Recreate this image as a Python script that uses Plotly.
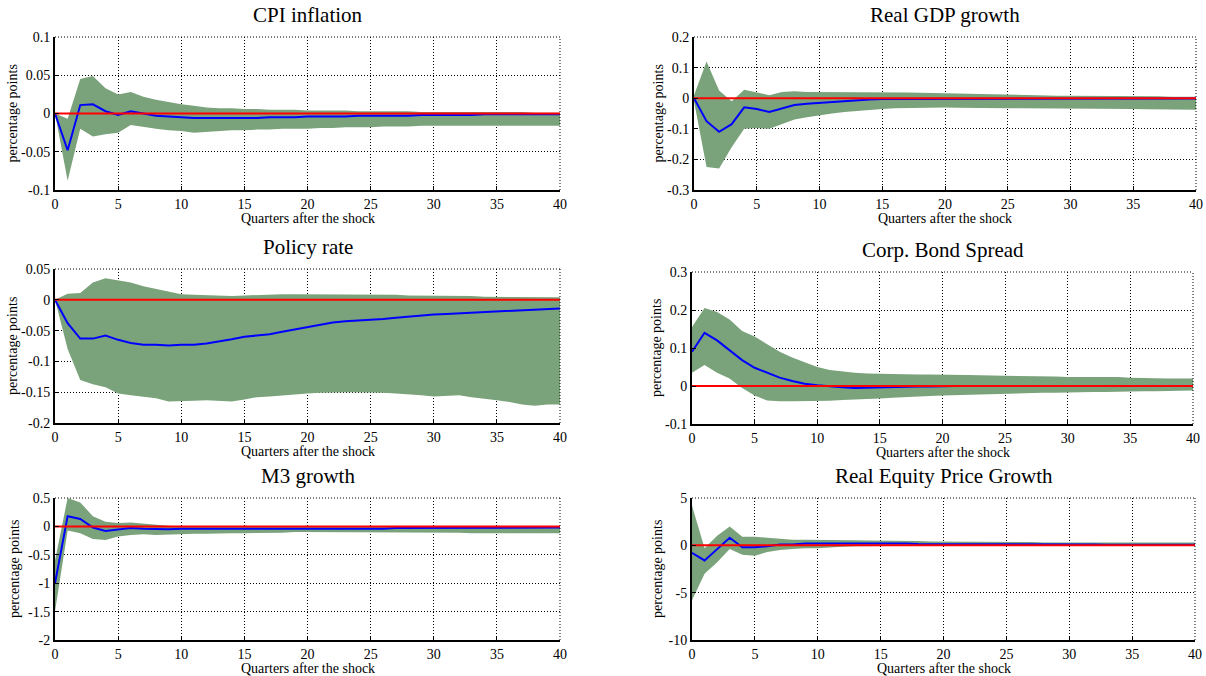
import plotly.graph_objects as go

quarters = list(range(41))

titles = ["CPI inflation", "Real GDP growth", "Policy rate",
          "Corp. Bond Spread", "M3 growth", "Real Equity Price Growth"]
x_title = "Quarters after the shock"
y_title = "percentage points"

cpi_med = [0, -0.048, 0.011, 0.012, 0.003, -0.002, 0.003, 0.000, -0.003, -0.004, -0.005, -0.006, -0.006, -0.006, -0.006, -0.006, -0.006, -0.005, -0.005, -0.005, -0.004, -0.004, -0.004, -0.004, -0.003, -0.003, -0.003, -0.003, -0.003, -0.002, -0.002, -0.002, -0.002, -0.002, -0.001, -0.001, -0.001, -0.001, -0.001, -0.001, -0.001]
cpi_up = [0, -0.007, 0.045, 0.049, 0.033, 0.025, 0.028, 0.022, 0.018, 0.015, 0.012, 0.010, 0.008, 0.007, 0.007, 0.006, 0.006, 0.005, 0.005, 0.005, 0.004, 0.004, 0.004, 0.004, 0.003, 0.003, 0.003, 0.003, 0.003, 0.002, 0.002, 0.002, 0.002, 0.002, 0.002, 0.002, 0.002, 0.002, 0.001, 0.001, 0.001]
cpi_lo = [0, -0.088, -0.020, -0.030, -0.027, -0.025, -0.015, -0.018, -0.020, -0.022, -0.023, -0.025, -0.024, -0.023, -0.022, -0.022, -0.021, -0.021, -0.020, -0.020, -0.020, -0.019, -0.019, -0.018, -0.018, -0.018, -0.017, -0.017, -0.017, -0.016, -0.016, -0.016, -0.016, -0.016, -0.016, -0.016, -0.016, -0.016, -0.016, -0.016, -0.016]

gdp_med = [0, -0.075, -0.110, -0.085, -0.030, -0.035, -0.045, -0.033, -0.022, -0.018, -0.015, -0.011, -0.008, -0.006, -0.004, -0.003, -0.003, -0.002, -0.002, -0.002, -0.002, -0.002, -0.002, -0.002, -0.002, -0.002, -0.002, -0.002, -0.002, -0.002, -0.002, -0.002, -0.002, -0.002, -0.002, -0.001, -0.001, -0.001, -0.001, -0.001, -0.001]
gdp_up = [0.010, 0.120, 0.025, -0.010, 0.028, 0.020, 0.010, 0.020, 0.023, 0.020, 0.020, 0.020, 0.020, 0.021, 0.021, 0.020, 0.020, 0.019, 0.018, 0.017, 0.015, 0.014, 0.013, 0.012, 0.011, 0.010, 0.010, 0.009, 0.009, 0.008, 0.008, 0.008, 0.007, 0.007, 0.006, 0.006, 0.006, 0.006, 0.005, 0.005, 0.005]
gdp_lo = [-0.010, -0.225, -0.230, -0.160, -0.100, -0.097, -0.100, -0.085, -0.070, -0.062, -0.055, -0.050, -0.045, -0.041, -0.038, -0.035, -0.033, -0.032, -0.031, -0.030, -0.030, -0.031, -0.032, -0.033, -0.033, -0.033, -0.033, -0.033, -0.033, -0.033, -0.033, -0.034, -0.034, -0.034, -0.035, -0.035, -0.036, -0.036, -0.037, -0.037, -0.038]

pol_med = [0, -0.038, -0.063, -0.063, -0.058, -0.065, -0.070, -0.073, -0.073, -0.074, -0.073, -0.073, -0.071, -0.068, -0.064, -0.060, -0.058, -0.056, -0.052, -0.048, -0.044, -0.040, -0.037, -0.035, -0.034, -0.032, -0.031, -0.029, -0.027, -0.025, -0.024, -0.023, -0.022, -0.021, -0.020, -0.019, -0.018, -0.016, -0.015, -0.015, -0.014]
pol_up = [0, 0.010, 0.011, 0.028, 0.035, 0.031, 0.028, 0.022, 0.018, 0.013, 0.009, 0.008, 0.007, 0.006, 0.006, 0.007, 0.008, 0.008, 0.009, 0.009, 0.009, 0.009, 0.009, 0.009, 0.008, 0.008, 0.008, 0.008, 0.007, 0.007, 0.007, 0.006, 0.006, 0.006, 0.005, 0.005, 0.005, 0.005, 0.004, 0.004, 0.004]
pol_lo = [0, -0.080, -0.130, -0.137, -0.142, -0.152, -0.155, -0.158, -0.160, -0.165, -0.165, -0.164, -0.163, -0.164, -0.165, -0.162, -0.158, -0.157, -0.155, -0.153, -0.152, -0.151, -0.150, -0.150, -0.150, -0.150, -0.151, -0.152, -0.153, -0.155, -0.157, -0.156, -0.155, -0.158, -0.160, -0.163, -0.166, -0.170, -0.172, -0.170, -0.170]

cbs_med = [0.090, 0.140, 0.120, 0.095, 0.068, 0.048, 0.034, 0.022, 0.013, 0.006, 0.002, -0.001, -0.003, -0.005, -0.004, -0.004, -0.003, -0.002, -0.001, -0.001, 0, 0, 0, 0, 0, 0, 0, 0, 0, 0, 0, 0, 0, 0, 0, 0, 0, 0, 0, 0, 0]
cbs_up = [0.155, 0.205, 0.195, 0.175, 0.145, 0.130, 0.110, 0.090, 0.075, 0.062, 0.050, 0.042, 0.038, 0.035, 0.033, 0.032, 0.031, 0.031, 0.030, 0.030, 0.030, 0.029, 0.029, 0.028, 0.028, 0.027, 0.026, 0.026, 0.025, 0.025, 0.024, 0.024, 0.025, 0.025, 0.024, 0.022, 0.021, 0.021, 0.020, 0.020, 0.020]
cbs_lo = [0.035, 0.055, 0.035, 0.020, -0.005, -0.025, -0.038, -0.040, -0.040, -0.040, -0.040, -0.039, -0.037, -0.036, -0.034, -0.033, -0.031, -0.029, -0.028, -0.026, -0.025, -0.024, -0.023, -0.022, -0.021, -0.020, -0.020, -0.019, -0.018, -0.018, -0.017, -0.017, -0.016, -0.016, -0.015, -0.015, -0.014, -0.014, -0.013, -0.013, -0.012]

m3_med = [-1.0, 0.18, 0.13, -0.02, -0.08, -0.06, -0.03, -0.04, -0.05, -0.05, -0.04, -0.04, -0.05, -0.05, -0.05, -0.05, -0.05, -0.04, -0.04, -0.04, -0.04, -0.04, -0.04, -0.04, -0.04, -0.04, -0.04, -0.03, -0.03, -0.03, -0.03, -0.03, -0.03, -0.03, -0.02, -0.02, -0.02, -0.02, -0.02, -0.02, -0.02]
m3_up = [-0.60, 0.50, 0.42, 0.18, 0.08, 0.06, 0.07, 0.05, 0.02, 0.01, 0.00, 0.00, 0.00, 0.00, 0.00, 0.00, 0.00, 0.00, 0.00, 0.00, 0.00, 0.00, 0.00, 0.00, 0.00, 0.00, 0.00, 0.00, 0.00, 0.00, 0.00, 0.00, 0.00, 0.00, 0.00, 0.00, 0.00, 0.00, 0.00, 0.00, 0.00]
m3_lo = [-1.50, -0.07, -0.12, -0.22, -0.24, -0.18, -0.15, -0.14, -0.15, -0.14, -0.13, -0.13, -0.13, -0.12, -0.12, -0.12, -0.12, -0.11, -0.11, -0.10, -0.10, -0.10, -0.10, -0.10, -0.10, -0.10, -0.10, -0.10, -0.11, -0.11, -0.11, -0.11, -0.11, -0.12, -0.12, -0.12, -0.12, -0.12, -0.12, -0.12, -0.12]

eq_med = [-0.8, -1.6, -0.4, 0.8, -0.2, -0.2, -0.1, 0.1, 0.1, 0.2, 0.2, 0.2, 0.25, 0.25, 0.25, 0.2, 0.2, 0.2, 0.15, 0.15, 0.15, 0.15, 0.1, 0.1, 0.1, 0.1, 0.1, 0.1, 0.1, 0.1, 0.1, 0.1, 0.1, 0.05, 0.05, 0.05, 0.05, 0.05, 0.05, 0.05, 0.05]
eq_up = [4.2, -0.3, 1.0, 2.0, 0.9, 0.9, 0.8, 0.7, 0.6, 0.6, 0.6, 0.6, 0.6, 0.55, 0.5, 0.5, 0.5, 0.45, 0.45, 0.4, 0.4, 0.4, 0.4, 0.4, 0.35, 0.35, 0.35, 0.35, 0.3, 0.3, 0.3, 0.3, 0.3, 0.3, 0.3, 0.3, 0.3, 0.3, 0.3, 0.3, 0.3]
eq_lo = [-5.8, -3.0, -1.8, -0.4, -1.0, -1.1, -0.7, -0.5, -0.4, -0.3, -0.3, -0.2, -0.15, -0.1, -0.1, -0.05, -0.05, -0.05, -0.05, -0.05, -0.05, -0.03, -0.02, 0.0, 0.0, 0.0, 0.0, 0.0, 0.0, 0.0, 0.0, 0.0, 0.0, 0.0, 0.0, 0.0, 0.0, 0.0, -0.02, -0.03, -0.05]

medians = [cpi_med, gdp_med, pol_med, cbs_med, m3_med, eq_med]
uppers = [cpi_up, gdp_up, pol_up, cbs_up, m3_up, eq_up]
lowers = [cpi_lo, gdp_lo, pol_lo, cbs_lo, m3_lo, eq_lo]

y_ticks = [
    [-0.1, -0.05, 0, 0.05, 0.1],
    [-0.3, -0.2, -0.1, 0, 0.1, 0.2],
    [-0.2, -0.15, -0.1, -0.05, 0, 0.05],
    [-0.1, 0, 0.1, 0.2, 0.3],
    [-2, -1.5, -1, -0.5, 0, 0.5],
    [-10, -5, 0, 5],
]
x_ticks = [0, 5, 10, 15, 20, 25, 30, 35, 40]


def fmt(v):
    return "%g" % v


# layout geometry (pixels -> paper fractions)
W, H = 1206, 676
x_px = [(55, 560), (694, 1196), (55, 560), (692, 1193), (55, 560), (692, 1195)]
y_px = [(37, 190), (37, 190), (269, 423), (272, 424), (498, 640), (498, 640)]
ytitle_shift = [43, 36, 43, 36, 40, 34]

GREEN = "#7ba37b"
FONT = "Liberation Serif"
GRID_DASH = "1px,2px"

fig = go.Figure()
layout = dict(
    width=W, height=H, margin=dict(l=0, r=0, t=0, b=0),
    paper_bgcolor="white", plot_bgcolor="white", showlegend=False,
    font=dict(family=FONT, color="black"),
)
annotations = []
shapes = []
for i in range(6):
    n = i + 1
    xa = "x" if n == 1 else "x%d" % n
    ya = "y" if n == 1 else "y%d" % n
    fig.add_trace(go.Scatter(x=quarters, y=uppers[i], mode="lines", line=dict(width=0),
                             xaxis=xa, yaxis=ya, hoverinfo="skip"))
    fig.add_trace(go.Scatter(x=quarters, y=lowers[i], mode="lines", line=dict(width=0),
                             fill="tonexty", fillcolor=GREEN, xaxis=xa, yaxis=ya, hoverinfo="skip"))
    fig.add_trace(go.Scatter(x=quarters, y=medians[i], mode="lines",
                             line=dict(color="#0000ff", width=2), xaxis=xa, yaxis=ya))
    fig.add_trace(go.Scatter(x=quarters, y=[0 for _ in quarters], mode="lines",
                             line=dict(color="#ff0000", width=2), xaxis=xa, yaxis=ya))
    x0, x1 = x_px[i]
    y0, y1 = y_px[i]
    xd = [x0 / W, x1 / W]
    yd = [1 - y1 / H, 1 - y0 / H]
    yt = y_ticks[i]
    layout["xaxis" if n == 1 else "xaxis%d" % n] = dict(
        domain=xd, anchor=ya, range=[0, 40], tickvals=x_ticks,
        ticktext=[fmt(v) for v in x_ticks], showline=True, linecolor="black", linewidth=2,
        ticks="inside", ticklen=4, tickcolor="black", showgrid=True, gridcolor="black",
        griddash=GRID_DASH, gridwidth=1, zeroline=False, automargin=False,
        tickfont=dict(size=14, family=FONT),
    )
    layout["yaxis" if n == 1 else "yaxis%d" % n] = dict(
        domain=yd, anchor=xa, range=[yt[0], yt[-1]], tickvals=yt,
        ticktext=[fmt(v) for v in yt], showline=True, linecolor="black", linewidth=2,
        ticks="inside", ticklen=4, tickcolor="black", showgrid=True, gridcolor="black",
        griddash=GRID_DASH, gridwidth=1, zeroline=False, automargin=False,
        tickfont=dict(size=14, family=FONT),
    )
    annotations.append(dict(
        text=titles[i], xref="paper", yref="paper", x=(xd[0] + xd[1]) / 2, y=yd[1],
        yshift=8, xanchor="center", yanchor="bottom", showarrow=False,
        font=dict(size=21, family=FONT),
    ))
    annotations.append(dict(
        text=x_title, xref="paper", yref="paper", x=(xd[0] + xd[1]) / 2, y=yd[0],
        yshift=-28, xanchor="center", yanchor="middle", showarrow=False,
        font=dict(size=14, family=FONT),
    ))
    annotations.append(dict(
        text=y_title, xref="paper", yref="paper", x=xd[0], y=(yd[0] + yd[1]) / 2,
        xshift=-ytitle_shift[i], xanchor="center", yanchor="middle", textangle=-90,
        showarrow=False, font=dict(size=14, family=FONT),
    ))
    shapes.append(dict(type="line", xref=xa + " domain", yref=ya + " domain",
                       x0=0, x1=1, y0=1, y1=1, line=dict(color="black", width=1, dash=GRID_DASH)))
    shapes.append(dict(type="line", xref=xa + " domain", yref=ya + " domain",
                       x0=1, x1=1, y0=0, y1=1, line=dict(color="black", width=1, dash=GRID_DASH)))

layout["annotations"] = annotations
layout["shapes"] = shapes
fig.update_layout(**layout)
fig.write_html("out.html")
